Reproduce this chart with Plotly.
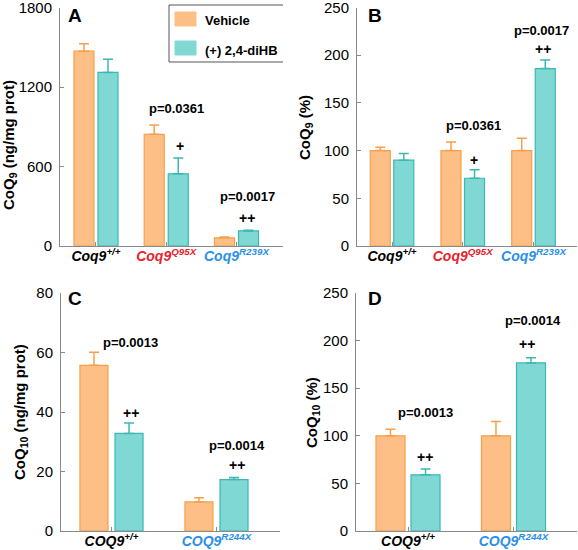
import plotly.graph_objects as go

# ---------------- data ----------------
groups_A = ["Coq9+/+", "Coq9Q95X", "Coq9R239X"]
vehicle_A = [1470, 843, 62]
vehicle_A_err = [57, 70, 5]
dihb_A = [1310, 545, 114]
dihb_A_err = [100, 120, 5]

vehicle_B = [100, 100, 100]
vehicle_B_err = [3.5, 9, 13]
dihb_B = [90, 71, 186]
dihb_B_err = [7, 9, 9]

groups_C = ["COQ9+/+", "COQ9R244X"]
vehicle_C = [55.7, 9.8]
vehicle_C_err = [4.4, 1.4]
dihb_C = [32.8, 17.3]
dihb_C_err = [3.5, 0.7]

vehicle_D = [100, 100]
vehicle_D_err = [7, 15]
dihb_D = [59, 176.6]
dihb_D_err = [6, 5.5]

ticks_A = ["<b><i>Coq9<sup>+/+</sup></i></b>",
           "<b><i><span style='color:#E8222B'>Coq9<sup>Q95X</sup></span></i></b>",
           "<b><i><span style='color:#2A8FE6'>Coq9<sup>R239X</sup></span></i></b>"]
ticks_C = ["<b><i>COQ9<sup>+/+</sup></i></b>",
           "<b><i><span style='color:#2A8FE6'>COQ9<sup>R244X</sup></span></i></b>"]

# annotations: (panel, text, x, y)
notes = [
    ("A", "p=0.0361", 1.15, 1036), ("A", "+", 1.19, 756),
    ("A", "p=0.0017", 2.16, 371), ("A", "++", 2.15, 212),
    ("B", "p=0.0361", 1.145, 126), ("B", "+", 1.16, 90),
    ("B", "p=0.0017", 2.12, 226), ("B", "++", 2.13, 206),
    ("C", "p=0.0013", 0.18, 63.5), ("C", "++", 0.19, 39.7),
    ("C", "p=0.0014", 1.195, 28.6), ("C", "++", 1.195, 22.2),
    ("D", "p=0.0013", 0.17, 125), ("D", "++", 0.16, 77.7),
    ("D", "p=0.0014", 1.185, 221.6), ("D", "++", 1.13, 196.4),
]

# ---------------- style ----------------
W, H = 578, 550
OR_FILL, OR_LINE = "#FDBF86", "#F5A04C"
TE_FILL, TE_LINE = "#80D8D4", "#3BB8B2"
AX = "#8A8A8A"
FONT = "Liberation Sans, Arial, sans-serif"

def px(x):
    return x / W

def py(y):
    return 1 - y / H

panels = {
    "A": ("", (60, 283), (246, 7.5), (-0.512, 2.662), (0, 1800), 0.285, 0.057, [0, 600, 1200, 1800]),
    "B": ("2", (357, 577), (246, 7.5), (-0.495, 2.615), (0, 250), 0.283, 0.05, [0, 50, 100, 150, 200, 250]),
    "C": ("3", (61, 280), (531, 293), (-0.481, 1.605), (0, 80), 0.267, 0.067, [0, 20, 40, 60, 80]),
    "D": ("4", (356, 577), (531, 293), (-0.493, 1.602), (0, 250), 0.275, 0.057, [0, 50, 100, 150, 200, 250]),
}

data_map = {
    "A": (vehicle_A, vehicle_A_err, dihb_A, dihb_A_err, ticks_A),
    "B": (vehicle_B, vehicle_B_err, dihb_B, dihb_B_err, ticks_A),
    "C": (vehicle_C, vehicle_C_err, dihb_C, dihb_C_err, ticks_C),
    "D": (vehicle_D, vehicle_D_err, dihb_D, dihb_D_err, ticks_C),
}

fig = go.Figure()
layout = dict(
    width=W, height=H, margin=dict(l=0, r=0, t=0, b=0, autoexpand=False),
    plot_bgcolor="white", paper_bgcolor="white", template="none",
    showlegend=False, font=dict(family=FONT, color="black"),
)

for key, (suf, xd, yd, xr, yr, bw, gap, ytv) in panels.items():
    v, ve, d, de, tt = data_map[key]
    xs = list(range(len(v)))
    xa, ya = "x" + suf, "y" + suf
    fig.add_trace(go.Bar(
        x=xs, y=v, width=bw, offset=-bw - gap / 2, name="Vehicle",
        marker=dict(color=OR_FILL, line=dict(color=OR_LINE, width=1.2)),
        error_y=dict(type="data", symmetric=False, array=ve, arrayminus=[0] * len(v),
                     color=OR_LINE, thickness=1.5, width=5),
        xaxis=xa, yaxis=ya, cliponaxis=False))
    fig.add_trace(go.Bar(
        x=xs, y=d, width=bw, offset=gap / 2, name="(+) 2,4-diHB",
        marker=dict(color=TE_FILL, line=dict(color=TE_LINE, width=1.2)),
        error_y=dict(type="data", symmetric=False, array=de, arrayminus=[0] * len(d),
                     color=TE_LINE, thickness=1.5, width=5),
        xaxis=xa, yaxis=ya, cliponaxis=False))
    layout["xaxis" + suf] = dict(
        domain=[px(xd[0]), px(xd[1])], range=list(xr), anchor=ya, automargin=False,
        tickvals=xs, ticktext=tt, showline=True, linecolor=AX, linewidth=1,
        ticks="inside", ticklen=4, tickcolor=AX, showgrid=False, zeroline=False,
        ticklabeloverflow="allow",
        tickfont=dict(size=14, family=FONT, color="black"), ticklabelstandoff=-3)
    layout["yaxis" + suf] = dict(
        domain=[py(yd[0]), py(yd[1])], range=list(yr), anchor=xa, automargin=False,
        tickvals=ytv, showline=True, linecolor=AX, linewidth=1,
        ticks="inside", ticklen=4, tickcolor=AX, showgrid=False, zeroline=False,
        ticklabeloverflow="allow",
        tickfont=dict(size=15, family=FONT, color="black"), ticklabelstandoff=4)

annotations = []
for key, text, x, y in notes:
    suf = panels[key][0]
    annotations.append(dict(
        text="<b>%s</b>" % text, x=x, y=y, xref="x" + suf, yref="y" + suf,
        showarrow=False, xanchor="center", yanchor="middle",
        font=dict(size=13 if "p" in text else 14, family=FONT, color="black")))

# panel letters
for letter, (lx, ly) in {"A": (66, 16), "B": (366, 16), "C": (66, 298), "D": (366, 298)}.items():
    annotations.append(dict(text="<b>%s</b>" % letter, x=px(lx), y=py(ly), xref="paper", yref="paper",
                            showarrow=False, xanchor="left", yanchor="middle",
                            font=dict(size=19, family=FONT, color="black")))

# y axis titles
ytitles = [
    ("CoQ<sub>9</sub> (ng/mg prot)", 9, 145),
    ("CoQ<sub>9</sub> (%)", 306, 128),
    ("CoQ<sub>10</sub> (ng/mg prot)", 20, 412),
    ("CoQ<sub>10</sub> (%)", 312, 413),
]
for t, tx, ty in ytitles:
    annotations.append(dict(text="<b>%s</b>" % t, x=px(tx), y=py(ty), xref="paper", yref="paper",
                            showarrow=False, textangle=-90, xanchor="center", yanchor="middle",
                            font=dict(size=15, family=FONT, color="black")))

# legend (panel A)
shapes = [
    dict(type="path", xref="paper", yref="paper",
         path="M %f %f L %f %f L %f %f L %f %f" % (px(283), py(5), px(169), py(5), px(169), py(62), px(283), py(62)),
         line=dict(color="#555555", width=1)),
    dict(type="rect", xref="paper", yref="paper", x0=px(175), x1=px(196), y0=py(12), y1=py(26),
         fillcolor=OR_FILL, line=dict(color=OR_FILL, width=1)),
    dict(type="rect", xref="paper", yref="paper", x0=px(175), x1=px(196), y0=py(41), y1=py(55),
         fillcolor=TE_FILL, line=dict(color=TE_FILL, width=1)),
]
annotations.append(dict(text="<b>Vehicle</b>", x=px(203), y=py(20), xref="paper", yref="paper",
                        showarrow=False, xanchor="left", yanchor="middle",
                        font=dict(size=13, family=FONT, color="black")))
annotations.append(dict(text="<b>(+) 2,4-diHB</b>", x=px(203), y=py(50), xref="paper", yref="paper",
                        showarrow=False, xanchor="left", yanchor="middle",
                        font=dict(size=13, family=FONT, color="black")))

layout["annotations"] = annotations
layout["shapes"] = shapes
fig.update_layout(**layout)
fig.write_html("out.html", config={"displayModeBar": False},
               post_script="document.body.style.margin='0';document.body.style.overflow='hidden';")
